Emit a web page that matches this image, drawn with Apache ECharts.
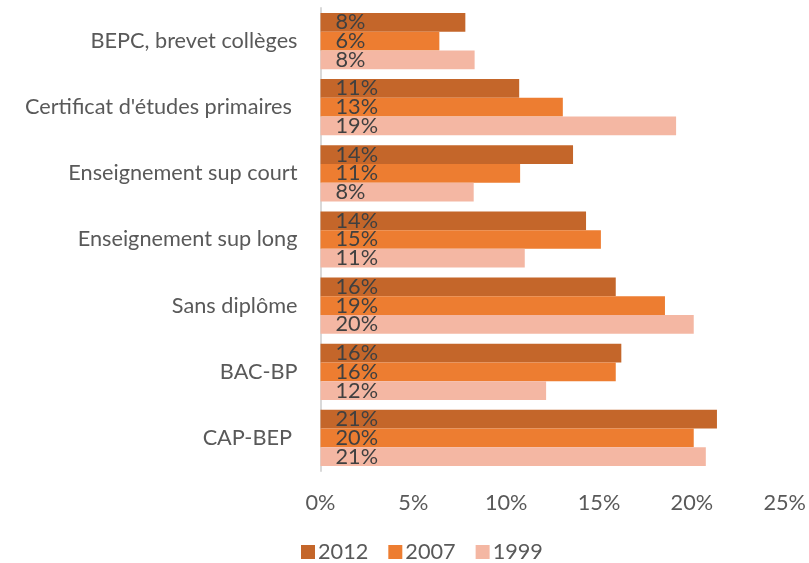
<!DOCTYPE html>
<html>
<head>
<meta charset="utf-8">
<script src="https://cdn.jsdelivr.net/npm/echarts@6/dist/echarts.min.js"></script>
<style>
  html, body { margin: 0; padding: 0; background: #ffffff; }
  #chart { width: 809px; height: 563px; }
</style>
</head>
<body>
<div id="chart"></div>
<script>
// Diploma categories, listed top to bottom
const categories = [
  'BEPC, brevet collèges',
  "Certificat d'études primaires ",
  'Enseignement sup court',
  'Enseignement sup long',
  'Sans diplôme',
  'BAC-BP',
  'CAP-BEP '
];

// Shares (%) per survey year
const years = ['2012', '2007', '1999'];
const values2012 = [7.8, 10.7, 13.6, 14.3, 15.9, 16.2, 21.35];
const values2007 = [6.4, 13.05, 10.75, 15.1, 18.55, 15.9, 20.1];
const values1999 = [8.3, 19.15, 8.25, 11.0, 20.1, 12.15, 20.75];

// Axis ticks
const xTicks = [0, 5, 10, 15, 20, 25];

const colors = ['#C4662A', '#ED7D31', '#F4B7A3'];
const font = 'Lato, "Open Sans", sans-serif';
const fontSize = 21.7;

function makeSeries(name, data, color) {
  return {
    name: name,
    type: 'bar',
    data: data,
    barGap: '0%',
    barCategoryGap: '15%',
    itemStyle: { color: color },
    label: {
      show: true,
      position: 'insideLeft',
      distance: 15,
      color: '#404040',
      fontFamily: font,
      fontSize: fontSize,
      formatter: p => Math.round(p.value) + '%'
    }
  };
}

const chart = echarts.init(document.getElementById('chart'), null, { renderer: 'canvas' });
chart.setOption({
  animation: false,
  color: colors,
  grid: { left: 320.5, right: 23.5, top: 8, height: 463, containLabel: false },
  legend: {
    data: years,
    left: 296,
    top: 536,
    itemWidth: 14,
    itemHeight: 14,
    itemGap: 20,
    icon: 'rect',
    textStyle: { color: '#595959', fontFamily: font, fontSize: fontSize, padding: [0, 0, 0, -2] }
  },
  xAxis: {
    type: 'value',
    min: xTicks[0],
    max: xTicks[xTicks.length - 1],
    interval: 5,
    axisLine: { show: false },
    axisTick: { show: false },
    splitLine: { show: false },
    axisLabel: {
      color: '#595959',
      fontFamily: font,
      fontSize: fontSize,
      margin: 21,
      formatter: v => v + '%'
    }
  },
  yAxis: {
    type: 'category',
    data: categories,
    inverse: true,
    axisLine: { show: true, lineStyle: { color: '#D9D9D9', width: 2 } },
    axisTick: { show: false },
    axisLabel: {
      color: '#595959',
      fontFamily: font,
      fontSize: fontSize,
      margin: 23
    }
  },
  series: [
    makeSeries(years[0], values2012, colors[0]),
    makeSeries(years[1], values2007, colors[1]),
    makeSeries(years[2], values1999, colors[2])
  ]
});
</script>
</body>
</html>
